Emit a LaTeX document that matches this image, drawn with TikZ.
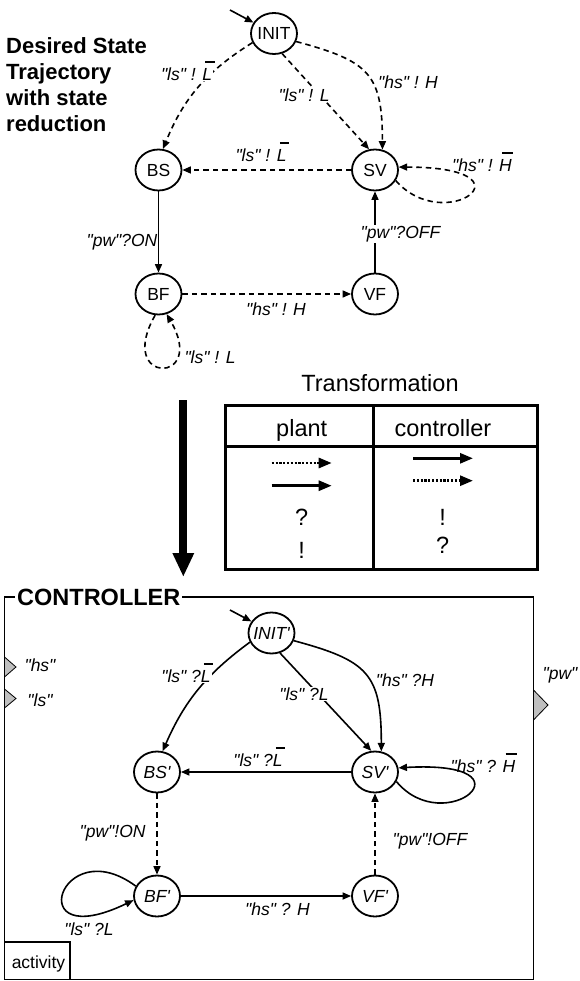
\documentclass[tikz,border=0pt]{standalone}
\usepackage{fontspec}
\setmainfont{Liberation Sans}[Ligatures=TeXOff]
\usetikzlibrary{arrows.meta,shapes.geometric}
\newcommand\myovL{\leavevmode\rlap{\hspace{3pt}\rule[17.5pt]{9.5pt}{1.4pt}}L}
\newcommand\myovH{\leavevmode\rlap{\hspace{3pt}\rule[17.5pt]{11pt}{1.4pt}}H}
\begin{document}
\begin{tikzpicture}[x=1pt,y=1pt,
  st/.style={ellipse,draw,line width=1.8pt,minimum width=46pt,minimum height=41pt,inner sep=0pt,font=\fontsize{17.5}{17.5}\selectfont},
  sti/.style={st,font=\fontsize{17.5}{17.5}\selectfont\itshape},
  tr/.style={line width=1.6pt,-{Triangle[length=8.5pt,width=7pt]}},
  dtr/.style={tr,dash pattern=on 5.5pt off 4pt},
  lbl/.style={font=\fontsize{17.5}{18}\selectfont\itshape,inner sep=1pt,anchor=base,yshift=-6.3pt},
  lblw/.style={lbl,fill=white},
  big/.style={font=\fontsize{23.5}{24}\selectfont,anchor=base,inner sep=0pt},
  ttl/.style={font=\fontsize{22}{26}\selectfont\bfseries,anchor=base west,inner sep=0pt},
  tarr/.style={line width=2.7pt,-{Triangle[length=13pt,width=10pt]}},
  tdot/.style={tarr,dash pattern=on 2.2pt off 1.6pt},
  port/.style={fill=gray!50,draw=black,line width=0.8pt}]
\useasboundingbox (0,0) rectangle (579,-981);

% ---------- title ----------
\node[ttl] (t1) at (6,-53.3) {Desired State};
\node[ttl] (t2) at (6,-79.5) {Trajectory};
\node[ttl] (t3) at (6,-105.7) {with state};
\node[ttl] (t4) at (6,-131.9) {reduction};

% ---------- top automaton ----------
\node[st] (init) at (274,-33.5) {\makebox[0pt]{INIT}};
\node[st] (bs) at (158.5,-170) {\makebox[0pt]{BS}};
\node[st] (sv) at (375,-170) {\makebox[0pt]{SV}};
\node[st] (bf) at (158.5,-294) {\makebox[0pt]{BF}};
\node[st] (vf) at (375,-294) {\makebox[0pt]{VF}};

\coordinate (s0) at (230,-10);
\draw[tr] (s0) -- (init.152);
\draw[dtr] (init.-157) to[bend right=18] (bs.78);
\draw[dtr] (init.-68) -- (sv.106);
\draw[dtr] (init.-20) to[out=-15,in=90,looseness=1.4] (sv.70);
\draw[dtr] (sv) -- (bs);
\draw[dtr] (sv.-27) .. controls (445,-237) and (540,-167) .. (sv.7);
\draw[tr] (bs) -- (bf);
\draw[tr] (vf) -- (sv);
\draw[dtr] (bf) -- (vf);
\draw[dtr] (bf.-99) .. controls (115,-385) and (208,-385) .. (bf.-68);

\node[lblw] (l1) at (186.5,-74) {"ls" ! \myovL};
\node[lblw] (l2) at (304,-95) {"ls" ! L};
\node[lblw] (l3) at (408,-82) {"hs" ! H};
\node[lbl] (l4) at (261,-155) {"ls" ! \myovL};
\node[lbl] (l5) at (482,-165) {"hs" ! \myovH};
\node[lblw] (l6) at (122,-240) {"pw"?ON};
\node[lblw] (l7) at (400.5,-232) {"pw"?OFF};
\node[lbl] (l8) at (276,-309) {"hs" ! H};
\node[lbl] (l9) at (210,-357) {"ls" ! L};

% ---------- transformation ----------
\node[big] (tt) at (380,-391.7) {Transformation};
\coordinate (ba) at (183.3,-400);
\coordinate (bb) at (183.3,-577);
\draw[line width=8pt,-{Triangle[length=24pt,width=20pt]}] (ba) -- (bb);
\draw[line width=3pt] (225,-405) rectangle (537,-569);
\draw[line width=3pt] (373,-405) -- (373,-569);
\draw[line width=3pt] (225,-446) -- (537,-446);
\node[big] (hp) at (301.7,-436.7) {plant};
\node[big] (hc) at (443,-436.7) {controller};
\node[big] (q1) at (301.7,-525) {?};
\node[big] (e1) at (301.7,-558.3) {!};
\node[big] (e2) at (442.7,-525) {!};
\node[big] (q2) at (442.7,-553.3) {?};
\coordinate (pa1) at (271.7,-463); \coordinate (pb1) at (331.7,-463);
\coordinate (pa2) at (271.7,-485.7); \coordinate (pb2) at (331.7,-485.7);
\coordinate (ca1) at (413,-458.3); \coordinate (cb1) at (473,-458.3);
\coordinate (ca2) at (413,-480.7); \coordinate (cb2) at (473,-480.7);
\draw[tdot] (pa1) -- (pb1);
\draw[tarr] (pa2) -- (pb2);
\draw[tarr] (ca1) -- (cb1);
\draw[tdot] (ca2) -- (cb2);

% ---------- controller box ----------
\draw[line width=1.8pt] (4.5,-597) rectangle (533.5,-979.5);
\node[font=\fontsize{23.5}{24}\selectfont\bfseries,anchor=base west,fill=white,inner xsep=2pt,inner ysep=1pt] (ctl) at (15,-605) {CONTROLLER};
\draw[line width=1.5pt] (4.5,-942) rectangle (70,-979.5);
\node[font=\fontsize{17.5}{18}\selectfont,anchor=base,inner sep=0pt] (act) at (38.5,-968) {activity};
\draw[port] (4.5,-657) -- (16,-667) -- (4.5,-677) -- cycle;
\draw[port] (4.5,-689) -- (16,-698.5) -- (4.5,-708) -- cycle;
\draw[port] (533.5,-690) -- (548,-705) -- (533.5,-720) -- cycle;
\node[lbl] (phs) at (40,-665) {"hs"};
\node[lbl] (pls) at (40,-700) {"ls"};
\node[lbl] (ppw) at (560,-673) {"pw"};

% ---------- bottom automaton ----------
\node[sti] (init2) at (271.5,-633) {\makebox[0pt]{INIT'}};
\node[sti] (bs2) at (157,-772) {\makebox[0pt]{BS'}};
\node[sti] (sv2) at (375,-772) {\makebox[0pt]{SV'}};
\node[sti] (bf2) at (157,-896) {\makebox[0pt]{BF'}};
\node[sti] (vf2) at (375,-896) {\makebox[0pt]{VF'}};

\coordinate (s1) at (230,-610);
\draw[tr] (s1) -- (init2.150);
\draw[tr] (init2.-157) to[bend right=15] (bs2.75);
\draw[tr] (init2.-67) -- (sv2.100);
\draw[tr] (init2.-19) to[out=-15,in=90,looseness=1.4] (sv2.73);
\draw[tr] (sv2) -- (bs2);
\draw[tr] (sv2.-24) .. controls (445,-840) and (540,-760) .. (sv2.10);
\draw[dtr] (bs2) -- (bf2);
\draw[dtr] (vf2) -- (sv2);
\draw[tr] (bf2) -- (vf2);
\draw[tr] (bf2.155) .. controls (60,-830) and (20,-955) .. (bf2.190);

\node[lblw] (m1) at (186,-676) {"ls" ?\myovL};
\node[lblw] (m2) at (304,-694) {"ls" ?L};
\node[lblw] (m3) at (405,-680) {"hs" ?H};
\node[lbl] (m4) at (258,-760) {"ls" ?\myovL};
\node[lbl] (m5) at (483,-766) {"hs" ? \myovH};
\node[lbl] (m6) at (112.6,-831) {"pw"!ON};
\node[lbl] (m7) at (430,-839) {"pw"!OFF};
\node[lbl] (m8) at (277.5,-909) {"hs" ? H};
\node[lbl] (m9) at (89,-929) {"ls" ?L};
\end{tikzpicture}
\end{document}
